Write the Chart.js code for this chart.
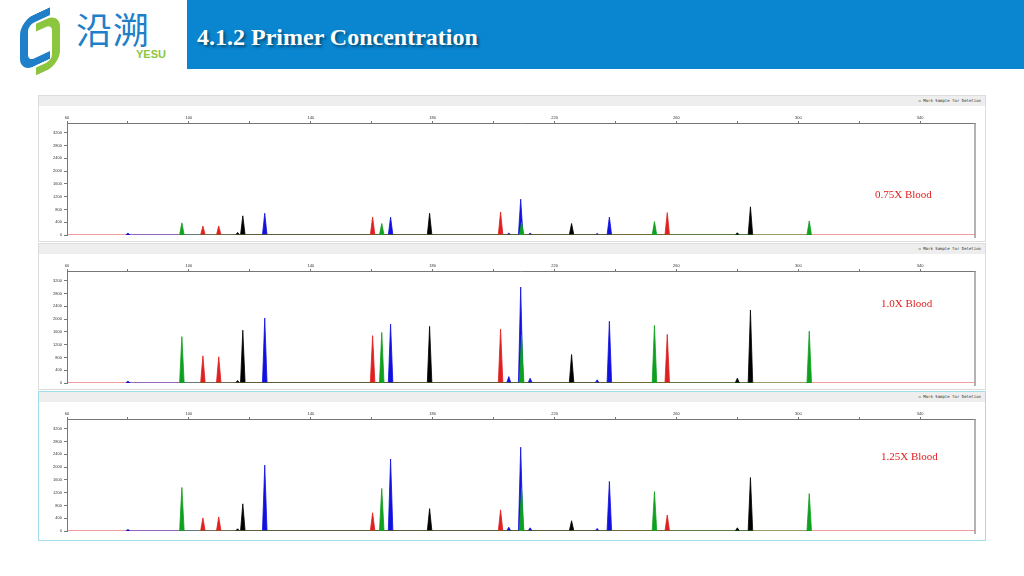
<!DOCTYPE html>
<html><head><meta charset="utf-8">
<script src="https://cdn.jsdelivr.net/npm/chart.js@4"></script>
<style>
body{margin:0;width:1024px;height:576px;background:#fff;position:relative;overflow:hidden;font-family:"Liberation Serif",serif}
.bar{position:absolute;left:187px;top:0;width:837px;height:69px;background:#0a86d0}
.title{position:absolute;left:197px;top:24px;color:#fff;font:bold 24px "Liberation Serif",serif;text-shadow:2px 2px 3px rgba(0,0,0,.45)}
.panel{position:absolute;left:38px;width:948px;background:#fff;border:1px solid #ddd;box-sizing:border-box}
.hdr{height:10px;background:#eee;font:4px monospace;color:#333;text-align:right;padding-right:4px;line-height:10px}
.lbl{position:absolute;color:#e02020;font:11px "Liberation Serif",serif}
</style></head><body>
<div style="position:absolute;left:18px;top:8px;width:44px;height:52px">
 <div style="position:absolute;left:2px;top:6px;width:22px;height:36px;border:8px solid #1f7fc8;border-right:none;border-radius:14px 0 0 14px;transform:skewY(-25deg)"></div>
 <div style="position:absolute;left:18px;top:10px;width:16px;height:36px;border:8px solid #8cc63f;border-left:none;border-radius:0 14px 14px 0;transform:skewY(-25deg)"></div>
</div>
<div style="position:absolute;left:76px;top:2px;font:36px 'Noto Sans CJK SC';color:#1f7fc8;letter-spacing:1px">沿溯</div>
<div style="position:absolute;left:136px;top:48px;font:bold 11px 'Liberation Sans',sans-serif;color:#8cc63f">YESU</div>
<div class="bar"></div><div class="title">4.1.2 Primer Concentration</div>

<div class="panel" style="top:95px;height:147px"><div class="hdr">☐ Mark Sample for Deletion</div><canvas id="c0"></canvas></div>
<div class="panel" style="top:243px;height:147px"><div class="hdr">☐ Mark Sample for Deletion</div><canvas id="c1"></canvas></div>
<div class="panel" style="top:391px;height:150px;border-color:#9fdcec"><div class="hdr">☐ Mark Sample for Deletion</div><canvas id="c2"></canvas></div>
<div class="lbl" style="left:875px;top:188px">0.75X Blood</div>
<div class="lbl" style="left:881px;top:297px">1.0X Blood</div>
<div class="lbl" style="left:881px;top:450px">1.25X Blood</div>
<script>
const xTicks=[60,80,100,120,140,160,180,200,220,240,260,280,300,320,340];
const xLabels=[60,100,140,180,220,260,300,340];
const yTicks=[0,400,800,1200,1600,2000,2400,2800,3200];
const peakPos=[97.7,104.6,109.8,117.7,124.9,160.3,163.3,166.2,179,202.3,208.9,209.2,225.6,238,252.8,257,284.3,303.6];
const peakCol=['g','r','r','k','b','r','g','b','k','r','b','g','k','b','g','r','k','g'];
const h075=[380,280,280,600,680,560,360,560,680,720,1120,400,360,560,420,700,880,440];
const h100=[1450,850,820,1650,2030,1480,1580,1840,1770,1680,3000,1500,890,1930,1800,1520,2280,1620];
const h125=[1360,410,440,850,2060,570,1330,2250,700,660,2620,1360,320,1550,1230,500,1670,1170];
const minorPos=[80,116,205,212,234,280];
const minorCol=['b','k','b','b','b','k'];
const m075=[60,80,60,60,50,70];
const m100=[60,80,200,150,100,150];
const m125=[50,70,120,100,80,100];
const colors={g:'#10a020',r:'#e02020',k:'#000000',b:'#1010e0'};
function mk(id,heights,minors){
  const sets={g:[],r:[],k:[],b:[]};
  const add=(p,c,h,w)=>{sets[c].push({x:p-w,y:0},{x:p,y:h},{x:p+w,y:0});};
  peakPos.forEach((p,i)=>add(p,peakCol[i],heights[i],0.75));
  minorPos.forEach((p,i)=>add(p,minorCol[i],minors[i],0.7));
  const ds=Object.keys(sets).map(k=>({data:sets[k].sort((a,b)=>a.x-b.x),borderColor:colors[k],backgroundColor:colors[k],fill:'origin',borderWidth:0.8,pointRadius:0,tension:0}));
  ds.push({data:[{x:60,y:0},{x:358,y:0}],borderColor:'#e04040',borderWidth:1.2,pointRadius:0,fill:false});
  const cv=document.getElementById(id);
  new Chart(cv,{type:'line',data:{datasets:ds},options:{responsive:false,animation:false,
    layout:{padding:{right:10,bottom:6,left:0,top:0}},
    plugins:{legend:{display:false},tooltip:{enabled:false}},
    scales:{
     x:{type:'linear',position:'top',min:60,max:358,afterFit:s=>{s.height=17},
        afterBuildTicks:a=>{a.ticks=xTicks.map(v=>({value:v}))},
        ticks:{font:{size:4},color:'#333',padding:1,callback:v=>xLabels.includes(v)?String(v):'',maxRotation:0,autoSkip:false},
        grid:{drawOnChartArea:false,tickLength:2,color:'#777'},border:{color:'#777'}},
     y:{min:0,max:3500,afterFit:s=>{s.width=28},
        afterBuildTicks:a=>{a.ticks=yTicks.map(v=>({value:v}))},
        ticks:{font:{size:4},color:'#333',padding:2,callback:v=>String(v),autoSkip:false},
        grid:{drawOnChartArea:false,tickLength:3,color:'#777'},border:{color:'#777'}}
    }},
    plugins:[{id:'frame',afterDraw(c){const a=c.chartArea,x=c.ctx;x.save();x.strokeStyle='#999';x.lineWidth=1.5;x.beginPath();x.moveTo(a.right,a.top);x.lineTo(a.right,a.bottom+3);x.stroke();x.restore();}}]
  });
}
['c0','c1','c2'].forEach(id=>{const c=document.getElementById(id);c.width=946;c.height=135;c.style.width='946px';c.style.height='135px';});
mk('c0',h075,m075);mk('c1',h100,m100);mk('c2',h125,m125);
</script></body></html>
